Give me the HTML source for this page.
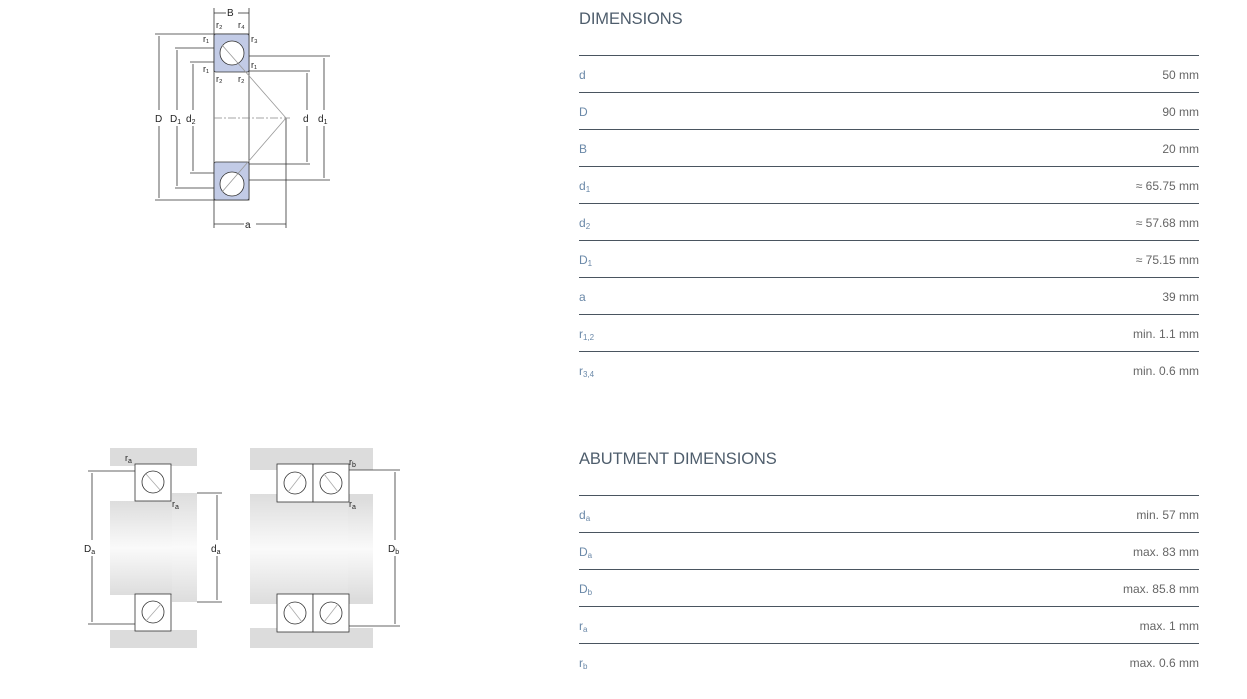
<!DOCTYPE html>
<html><head><meta charset="utf-8"><style>
body{margin:0;background:#fff;width:1247px;height:699px;position:relative;overflow:hidden;font-family:"Liberation Sans",sans-serif}
.h{position:absolute;left:579px;font-size:16.5px;color:#4e5d6c;letter-spacing:-0.1px}
.ln{position:absolute;left:579px;width:620px;height:1px;background:#4a5560}
.l{position:absolute;left:579px;font-size:12px;color:#6a88a8}
.v{position:absolute;right:48px;font-size:12px;color:#666}
sub{font-size:8px;vertical-align:-2px}
</style></head><body>
<svg width="1247" height="699" style="position:absolute;left:0;top:0" font-family="Liberation Sans" font-size="10" fill="#222">
<defs><linearGradient id="sg" x1="0" y1="0" x2="0" y2="1"><stop offset="0" stop-color="#ddd"/><stop offset="0.5" stop-color="#fafafa"/><stop offset="1" stop-color="#ddd"/></linearGradient></defs>
<g stroke="#333" stroke-width="0.8" fill="none">
<rect x="214" y="34" width="35" height="166" fill="#fff"/>
<rect x="214" y="34" width="35" height="38" rx="2" fill="#c2cbe6"/>
<rect x="214" y="162" width="35" height="38" rx="2" fill="#c2cbe6"/>
<circle cx="232" cy="53" r="12" fill="#fff"/><circle cx="232" cy="184" r="12" fill="#fff"/>
<line x1="214" y1="8" x2="214" y2="34"/><line x1="249" y1="8" x2="249" y2="34"/>
<line x1="214" y1="200" x2="214" y2="228"/><line x1="286" y1="118" x2="286" y2="228"/>
<line x1="155" y1="34" x2="214" y2="34"/><line x1="155" y1="200" x2="214" y2="200"/>
<line x1="175" y1="48" x2="214" y2="48"/><line x1="175" y1="188" x2="214" y2="188"/>
<line x1="190" y1="62" x2="214" y2="62"/><line x1="190" y1="173" x2="214" y2="173"/>
<line x1="249" y1="56" x2="330" y2="56"/><line x1="249" y1="180" x2="330" y2="180"/>
<line x1="249" y1="71" x2="310" y2="71"/><line x1="249" y1="164" x2="310" y2="164"/>
<line x1="159" y1="36" x2="159" y2="110"/><line x1="159" y1="126" x2="159" y2="198"/>
<line x1="177" y1="50" x2="177" y2="110"/><line x1="177" y1="126" x2="177" y2="186"/>
<line x1="193" y1="64" x2="193" y2="110"/><line x1="193" y1="126" x2="193" y2="171"/>
<line x1="307" y1="73" x2="307" y2="110"/><line x1="307" y1="126" x2="307" y2="162"/>
<line x1="324" y1="58" x2="324" y2="110"/><line x1="324" y1="126" x2="324" y2="178"/>
<line x1="214" y1="118" x2="290" y2="118" stroke="#888" stroke-dasharray="8 2 2 2"/>
<line x1="222" y1="45" x2="286" y2="118" stroke="#999"/><line x1="222" y1="192" x2="286" y2="118" stroke="#999"/>
<line x1="214" y1="13" x2="226" y2="13"/><line x1="238" y1="13" x2="249" y2="13"/>
<line x1="214" y1="224" x2="244" y2="224"/><line x1="256" y1="224" x2="286" y2="224"/>
</g>
<text x="227" y="16">B</text><text x="245" y="228">a</text>
<text x="155" y="122">D</text><text x="170" y="122">D<tspan font-size="7" dy="2">1</tspan></text><text x="186" y="122" dy="0">d<tspan font-size="7" dy="2">2</tspan></text>
<text x="303" y="122">d</text><text x="318" y="122">d<tspan font-size="7" dy="2">1</tspan></text>
<g font-size="9"><text x="216" y="28">r₂</text><text x="238" y="28">r₄</text><text x="203" y="42">r₁</text><text x="251" y="42">r₃</text><text x="203" y="72">r₁</text><text x="251" y="68">r₁</text><text x="216" y="82">r₂</text><text x="238" y="82">r₂</text></g>
<!-- bottom left -->
<rect x="110" y="448" width="87" height="18" fill="#dcdcdc"/><rect x="110" y="630" width="87" height="18" fill="#dcdcdc"/>
<rect x="110" y="501" width="62" height="94" fill="url(#sg)"/><rect x="172" y="493" width="25" height="109" fill="url(#sg)"/>
<g stroke="#333" stroke-width="0.8" fill="#fff">
<rect x="135" y="464" width="36" height="37"/><rect x="135" y="594" width="36" height="37"/>
<circle cx="153" cy="482" r="11"/><circle cx="153" cy="612" r="11"/>
<rect x="250" y="448" width="123" height="200" fill="#dcdcdc" stroke="none"/>
<rect x="250" y="470" width="123" height="24" fill="#fff" stroke="none"/><rect x="250" y="604" width="123" height="24" fill="#fff" stroke="none"/>
<rect x="250" y="494" width="98" height="110" fill="url(#sg)" stroke="none"/><rect x="348" y="500" width="25" height="98" fill="url(#sg)" stroke="none"/>
<rect x="277" y="464" width="36" height="38"/><rect x="313" y="464" width="36" height="38"/>
<rect x="277" y="594" width="36" height="38"/><rect x="313" y="594" width="36" height="38"/>
<circle cx="295" cy="483" r="11"/><circle cx="331" cy="483" r="11"/><circle cx="295" cy="613" r="11"/><circle cx="331" cy="613" r="11"/>
</g>
<g stroke="#aaa" stroke-width="0.8">
<line x1="146" y1="474" x2="161" y2="491"/><line x1="146" y1="621" x2="161" y2="604"/>
<line x1="288" y1="492" x2="302" y2="474"/><line x1="324" y1="474" x2="338" y2="492"/>
<line x1="288" y1="604" x2="302" y2="622"/><line x1="324" y1="622" x2="338" y2="604"/>
</g>
<g stroke="#333" stroke-width="0.8"><line x1="88" y1="471" x2="135" y2="471"/><line x1="88" y1="624" x2="135" y2="624"/><line x1="92" y1="473" x2="92" y2="540"/><line x1="92" y1="556" x2="92" y2="622"/>
<line x1="197" y1="493" x2="222" y2="493"/><line x1="197" y1="602" x2="222" y2="602"/><line x1="217" y1="495" x2="217" y2="540"/><line x1="217" y1="556" x2="217" y2="600"/>
<line x1="349" y1="470" x2="400" y2="470"/><line x1="349" y1="626" x2="400" y2="626"/><line x1="395" y1="472" x2="395" y2="540"/><line x1="395" y1="556" x2="395" y2="624"/></g>
<text x="84" y="552">D<tspan font-size="7" dy="2">a</tspan></text><text x="211" y="552">d<tspan font-size="7" dy="2">a</tspan></text><text x="388" y="552">D<tspan font-size="7" dy="2">b</tspan></text>
<g font-size="9"><text x="125" y="461">r<tspan font-size="7" dy="2">a</tspan></text><text x="172" y="507">r<tspan font-size="7" dy="2">a</tspan></text><text x="349" y="465">r<tspan font-size="7" dy="2">b</tspan></text><text x="349" y="507">r<tspan font-size="7" dy="2">a</tspan></text></g>
</svg>
<div class="h" style="top:10px">DIMENSIONS</div>
<div class="ln" style="top:55px"></div><div class="l" style="top:68px">d</div><div class="v" style="top:68px">50 mm</div>
<div class="ln" style="top:92px"></div><div class="l" style="top:105px">D</div><div class="v" style="top:105px">90 mm</div>
<div class="ln" style="top:129px"></div><div class="l" style="top:142px">B</div><div class="v" style="top:142px">20 mm</div>
<div class="ln" style="top:166px"></div><div class="l" style="top:179px">d<sub>1</sub></div><div class="v" style="top:179px">≈ 65.75 mm</div>
<div class="ln" style="top:203px"></div><div class="l" style="top:216px">d<sub>2</sub></div><div class="v" style="top:216px">≈ 57.68 mm</div>
<div class="ln" style="top:240px"></div><div class="l" style="top:253px">D<sub>1</sub></div><div class="v" style="top:253px">≈ 75.15 mm</div>
<div class="ln" style="top:277px"></div><div class="l" style="top:290px">a</div><div class="v" style="top:290px">39 mm</div>
<div class="ln" style="top:314px"></div><div class="l" style="top:327px">r<sub>1,2</sub></div><div class="v" style="top:327px">min. 1.1 mm</div>
<div class="ln" style="top:351px"></div><div class="l" style="top:364px">r<sub>3,4</sub></div><div class="v" style="top:364px">min. 0.6 mm</div>
<div class="h" style="top:450px">ABUTMENT DIMENSIONS</div>
<div class="ln" style="top:495px"></div><div class="l" style="top:508px">d<sub>a</sub></div><div class="v" style="top:508px">min. 57 mm</div>
<div class="ln" style="top:532px"></div><div class="l" style="top:545px">D<sub>a</sub></div><div class="v" style="top:545px">max. 83 mm</div>
<div class="ln" style="top:569px"></div><div class="l" style="top:582px">D<sub>b</sub></div><div class="v" style="top:582px">max. 85.8 mm</div>
<div class="ln" style="top:606px"></div><div class="l" style="top:619px">r<sub>a</sub></div><div class="v" style="top:619px">max. 1 mm</div>
<div class="ln" style="top:643px"></div><div class="l" style="top:656px">r<sub>b</sub></div><div class="v" style="top:656px">max. 0.6 mm</div>
</body></html>
